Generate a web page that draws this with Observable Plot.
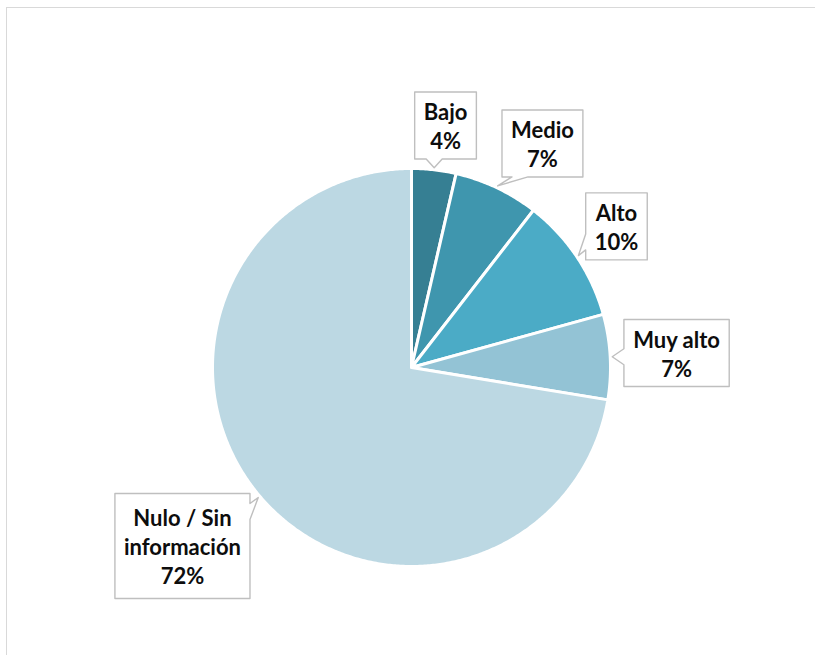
<!DOCTYPE html>
<html>
<head>
<meta charset="utf-8">
<script src="https://cdn.jsdelivr.net/npm/d3@7"></script>
<script src="https://cdn.jsdelivr.net/npm/@observablehq/plot@0.6"></script>
<style>
  html, body { margin: 0; padding: 0; background: #fff; }
  #wrap { position: relative; width: 815px; height: 655px; overflow: hidden; }
  #frame { position: absolute; left: 6px; top: 7px; width: 830px; height: 670px; border: 1px solid #d9d9d9; box-sizing: border-box; }
  #chart { position: absolute; left: 0; top: 0; }
</style>
</head>
<body>
<div id="wrap"><div id="frame"></div><div id="chart"></div></div>
<script>
// ---- data ----
const categories = ["Bajo", "Medio", "Alto", "Muy alto", "Nulo / Sin\ninformación"];
const values = [3.6, 6.9, 10.2, 6.9, 72.4];           // percent
const colors = ["#367f93", "#3f96ae", "#4babc6", "#93c3d5", "#bcd8e3"];

// ---- layout (callout box centres, in pie-radius units, y up) ----
const calloutPos = [[0.171, 1.216], [0.658, 1.126], [1.030, 0.709], [1.332, 0.073], [-1.151, -0.897]];

const W = 815, H = 655;
const cx = 411, cy = 367, R = 199;
const k = 1 / R; // units per pixel

const pie = d3.pie().sort(null).value(d => d.value);
const slices = pie(categories.map((name, i) => ({name, value: values[i]})));

// slice polygons
const slicePts = [];
slices.forEach(s => {
  const name = s.data.name;
  slicePts.push({name, x: 0, y: 0});
  const n = Math.max(2, Math.ceil((s.endAngle - s.startAngle) / (Math.PI / 360)));
  for (let j = 0; j <= n; j++) {
    const a = s.startAngle + (s.endAngle - s.startAngle) * j / n;
    slicePts.push({name, x: Math.sin(a), y: Math.cos(a)});
  }
  slicePts.push({name, x: 0, y: 0});
});

// callouts
const fontPx = 22, padX = 9, maxTextW = 124;
const ctx = document.createElement("canvas").getContext("2d");
ctx.font = `bold ${fontPx}px Lato`;
const calloutPts = [];
const labels = [];
slices.forEach((s, i) => {
  const text = `${s.data.name}\n${Math.round(s.data.value)}%`;
  const lines = text.split("\n");
  const w = Math.min(maxTextW, Math.max(...lines.map(l => ctx.measureText(l).width))) + 2 * padX;
  const h = 38 * lines.length - 9;
  const [bx, by] = calloutPos[i];
  labels.push({x: bx, y: by, text});
  const hw = w / 2 * k, hh = h / 2 * k;
  const L = bx - hw, Rt = bx + hw, T = by + hh, B = by - hh;
  const mid = (s.startAngle + s.endAngle) / 2;
  const tipR = 1.01;
  const tip = [tipR * Math.sin(mid), tipR * Math.cos(mid)];
  const over = {left: L - tip[0], right: tip[0] - Rt, top: tip[1] - T, bottom: B - tip[1]};
  const side = Object.keys(over).reduce((a, b) => over[a] >= over[b] ? a : b);
  const b = 8 * k, m = 10 * k;
  const clamp = (v, lo, hi) => Math.max(lo, Math.min(hi, v));
  const pts = [];
  pts.push([L, T]);
  if (side === "top") { const c = clamp(tip[0], L + m + b, Rt - m - b); pts.push([c - b, T], tip, [c + b, T]); }
  pts.push([Rt, T]);
  if (side === "right") { const c = clamp(tip[1], B + m + b, T - m - b); pts.push([Rt, c + b], tip, [Rt, c - b]); }
  pts.push([Rt, B]);
  if (side === "bottom") { const c = clamp(tip[0], L + m + b, Rt - m - b); pts.push([c + b, B], tip, [c - b, B]); }
  pts.push([L, B]);
  if (side === "left") { const c = clamp(tip[1], B + m + b, T - m - b); pts.push([L, c - b], tip, [L, c + b]); }
  pts.push([L, T]);
  pts.forEach(p => calloutPts.push({name: s.data.name, x: p[0], y: p[1]}));
});

const chart = Plot.plot({
  width: W,
  height: H,
  marginLeft: cx - R,
  marginRight: W - (cx + R),
  marginTop: cy - R,
  marginBottom: H - (cy + R),
  x: {domain: [-1, 1], axis: null},
  y: {domain: [-1, 1], axis: null},
  color: {domain: categories, range: colors},
  style: {fontFamily: "Lato, 'Open Sans', sans-serif", background: "transparent", overflow: "visible"},
  marks: [
    Plot.line(slicePts, {x: "x", y: "y", z: "name", fill: "name", stroke: "white", strokeWidth: 3, curve: "linear"}),
    Plot.line(calloutPts, {x: "x", y: "y", z: "name", fill: "white", stroke: "#bfbfbf", strokeWidth: 1.4, curve: "linear"}),
    Plot.text(labels, {x: "x", y: "y", text: "text", fontSize: fontPx, fontWeight: "bold", lineHeight: 1.31, lineAnchor: "middle", fill: "#0d0d0d"})
  ]
});
document.getElementById("chart").appendChild(chart);
</script>
</body>
</html>
